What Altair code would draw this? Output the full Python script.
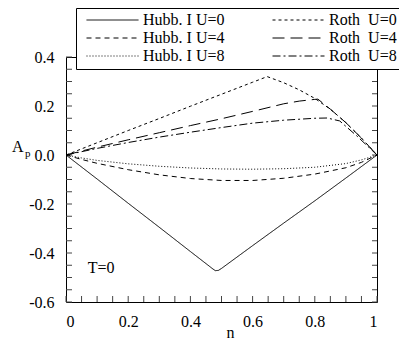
import altair as alt
import pandas as pd

# ---- data ----
series_names = ["Hubb. I U=0", "Hubb. I U=4", "Hubb. I U=8", "Roth\u00a0 U=0", "Roth\u00a0 U=4", "Roth\u00a0 U=8"]
series_dash = [[1, 0], [5, 4], [1, 2], [3, 3], [12, 6], [8, 3, 2, 3]]

n_hubb0 = [0, 0.1, 0.2, 0.3, 0.4, 0.46, 0.47, 0.48, 0.49, 0.5, 0.6, 0.7, 0.8, 0.9, 1.0]
a_hubb0 = [0, -0.098, -0.197, -0.295, -0.394, -0.453, -0.463, -0.472, -0.471, -0.463, -0.37, -0.278, -0.187, -0.094, 0]

n_hubb4 = [0, 0.05, 0.1, 0.2, 0.3, 0.4, 0.5, 0.6, 0.7, 0.8, 0.9, 0.95, 1.0]
a_hubb4 = [0, -0.018, -0.034, -0.06, -0.081, -0.096, -0.104, -0.104, -0.095, -0.078, -0.052, -0.03, 0]

n_hubb8 = [0, 0.05, 0.1, 0.2, 0.3, 0.4, 0.5, 0.6, 0.7, 0.8, 0.9, 0.95, 1.0]
a_hubb8 = [0, -0.012, -0.022, -0.036, -0.046, -0.053, -0.057, -0.058, -0.056, -0.05, -0.035, -0.02, 0]

n_roth0 = [0, 0.1, 0.2, 0.3, 0.4, 0.5, 0.6, 0.647, 0.7, 0.75, 0.8, 0.85, 0.9, 0.95, 1.0]
a_roth0 = [0, 0.05, 0.1, 0.149, 0.199, 0.248, 0.297, 0.32, 0.295, 0.266, 0.231, 0.187, 0.132, 0.069, 0]

n_roth4 = [0, 0.1, 0.2, 0.3, 0.4, 0.5, 0.6, 0.7, 0.75, 0.8, 0.81, 0.85, 0.9, 0.95, 1.0]
a_roth4 = [0, 0.032, 0.062, 0.091, 0.12, 0.148, 0.178, 0.209, 0.22, 0.227, 0.228, 0.187, 0.132, 0.069, 0]

n_roth8 = [0, 0.1, 0.2, 0.3, 0.4, 0.5, 0.6, 0.7, 0.8, 0.84, 0.88, 0.935, 1.0]
a_roth8 = [0, 0.027, 0.051, 0.073, 0.093, 0.112, 0.13, 0.142, 0.15, 0.151, 0.139, 0.078, 0]

x_tick_values = [0, 0.05, 0.1, 0.15, 0.2, 0.25, 0.3, 0.35, 0.4, 0.45, 0.5,
                 0.55, 0.6, 0.65, 0.7, 0.75, 0.8, 0.85, 0.9, 0.95, 1.0]
y_tick_values = [-0.6, -0.55, -0.5, -0.45, -0.4, -0.35, -0.3, -0.25, -0.2, -0.15, -0.1,
                 -0.05, 0, 0.05, 0.1, 0.15, 0.2, 0.25, 0.3, 0.35, 0.4]
x_label_values = [0, 0.2, 0.4, 0.6, 0.8, 1.0]
y_label_values = [-0.6, -0.4, -0.2, 0, 0.2, 0.4]

note_text = ["T=0"]
note_n = [0.07]
note_a = [-0.482]

# ---- build tables ----
parts = [
    (series_names[0], n_hubb0, a_hubb0),
    (series_names[1], n_hubb4, a_hubb4),
    (series_names[2], n_hubb8, a_hubb8),
    (series_names[3], n_roth0, a_roth0),
    (series_names[4], n_roth4, a_roth4),
    (series_names[5], n_roth8, a_roth8),
]
rows = []
for name, ns, As in parts:
    for i, (nv, av) in enumerate(zip(ns, As)):
        rows.append({"series": name, "n": nv, "A": av, "order": i})
df = pd.DataFrame(rows)

W, H = 311, 245
FONT = "Liberation Serif"

xscale = alt.Scale(domain=[0, 1], nice=False, zero=False)
yscale = alt.Scale(domain=[-0.6, 0.4], nice=False, zero=False)

lines = alt.Chart(df).mark_line(color="black", strokeWidth=1).encode(
    x=alt.X("n:Q", scale=xscale,
            axis=alt.Axis(values=x_label_values, format="~g", title="n",
                          titleX=164, titleY=35, titleBaseline="alphabetic",
                          labelPadding=11)),
    y=alt.Y("A:Q", scale=yscale,
            axis=alt.Axis(values=y_label_values, title=None, labelPadding=12,
                          labelExpr="datum.value < 0 ? '-' + format(-datum.value, '.1f') : format(datum.value, '.1f')")),
    order="order:Q",
    strokeDash=alt.StrokeDash(
        "series:N",
        scale=alt.Scale(domain=series_names, range=series_dash),
        legend=alt.Legend(
            orient="none", legendX=10, legendY=-49, title=None, columns=2,
            direction="vertical",
            symbolType="stroke", symbolSize=2704, symbolStrokeWidth=1,
            symbolStrokeColor="black", symbolOffset=5,
            clipHeight=14, rowPadding=2, columnPadding=42,
            labelFont=FONT, labelFontSize=16, labelColor="black", labelOffset=4,
            labelLimit=200,
            padding=5, fillColor="white", strokeColor="black",
        ),
    ),
)

tx = pd.DataFrame({"t": x_tick_values})
ty = pd.DataFrame({"t": y_tick_values})
bottom_ticks = alt.Chart(tx).mark_rule(color="#444", strokeWidth=1).encode(
    x=alt.X("t:Q", scale=xscale), y=alt.value(H), y2=alt.value(H - 6))
left_ticks = alt.Chart(ty).mark_rule(color="#444", strokeWidth=1).encode(
    y=alt.Y("t:Q", scale=yscale), x=alt.value(0), x2=alt.value(6))
right_ticks = alt.Chart(ty).mark_rule(color="#444", strokeWidth=1).encode(
    y=alt.Y("t:Q", scale=yscale), x=alt.value(W - 5), x2=alt.value(W))

shadow = alt.Chart(pd.DataFrame({"k": [0]})).mark_rect(color="black").encode(
    x=alt.value(14), x2=alt.value(336), y=alt.value(-45), y2=alt.value(11))

note = alt.Chart(pd.DataFrame({"label": note_text, "n": note_n, "A": note_a})).mark_text(
    font=FONT, fontSize=16, align="left", baseline="alphabetic", color="black"
).encode(x=alt.X("n:Q", scale=xscale), y=alt.Y("A:Q", scale=yscale), text="label:N")

ytitle_a = alt.Chart(pd.DataFrame({"k": [0]})).mark_text(
    font=FONT, fontSize=16, align="left", baseline="alphabetic", color="black"
).encode(x=alt.value(-54), y=alt.value(95), text=alt.value("A"))
ytitle_p = alt.Chart(pd.DataFrame({"k": [0]})).mark_text(
    font=FONT, fontSize=11, align="left", baseline="alphabetic", color="black"
).encode(x=alt.value(-41), y=alt.value(100), text=alt.value("p"))

chart = alt.layer(
    shadow, bottom_ticks, left_ticks, right_ticks, lines, note, ytitle_a, ytitle_p
).properties(
    width=W, height=H,
    autosize=alt.AutoSizeParams(type="none"),
    padding={"left": 58, "top": 49, "right": 22, "bottom": 37},
).configure_view(
    stroke="black", strokeWidth=1
).configure_axis(
    grid=False, domain=False, ticks=False, tickSize=0,
    labelFont=FONT, labelFontSize=16, labelColor="black",
    titleFont=FONT, titleFontSize=16, titleColor="black", titleFontWeight="normal",
)

chart.save("out.html", embed_options={"renderer": "svg", "actions": False})
